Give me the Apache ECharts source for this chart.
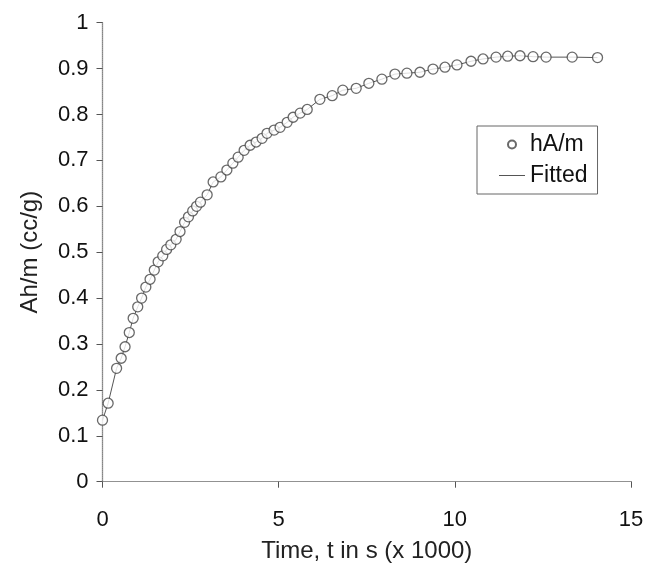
<!DOCTYPE html>
<html>
<head>
<meta charset="utf-8">
<script src="https://cdn.jsdelivr.net/npm/echarts@6/dist/echarts.min.js"></script>
<style>
  html, body { margin: 0; padding: 0; background: #fff; }
  #chart-container { width: 649px; height: 567px; }
</style>
</head>
<body>
<div id="chart-container"></div>
<script>
// Tiempos (x 1000 s) y valores
var tiempos = [0, 0.16, 0.40, 0.53, 0.64, 0.76, 0.87, 1.00, 1.11, 1.23, 1.35, 1.47, 1.58, 1.71,
  1.82, 1.94, 2.09, 2.20, 2.33, 2.44, 2.56, 2.67, 2.78, 2.97, 3.14, 3.36, 3.53, 3.70, 3.85,
  4.02, 4.19, 4.36, 4.53, 4.67, 4.87, 5.04, 5.24, 5.41, 5.61, 5.81, 6.17, 6.52, 6.82, 7.20,
  7.56, 7.93, 8.30, 8.64, 9.01, 9.38, 9.72, 10.06, 10.46, 10.80, 11.17, 11.50, 11.85, 12.22,
  12.59, 13.33, 14.05];
var valoresAhm = [0.134, 0.171, 0.247, 0.269, 0.294, 0.325, 0.356, 0.381, 0.400, 0.424, 0.441,
  0.461, 0.479, 0.492, 0.506, 0.516, 0.528, 0.545, 0.565, 0.577, 0.590, 0.600, 0.609, 0.625,
  0.653, 0.664, 0.679, 0.694, 0.707, 0.722, 0.733, 0.740, 0.748, 0.759, 0.766, 0.772, 0.783,
  0.794, 0.803, 0.811, 0.833, 0.841, 0.853, 0.857, 0.868, 0.877, 0.888, 0.890, 0.892, 0.899,
  0.903, 0.908, 0.916, 0.921, 0.925, 0.927, 0.928, 0.926, 0.925, 0.925, 0.924];
// Curva ajustada (pasa por los mismos puntos)
var valoresAjuste = valoresAhm.slice();

var fuente = "'Liberation Sans', Arial, sans-serif";

function pares(xs, ys) {
  return xs.map(function (x, i) { return [x, ys[i]]; });
}

var option = {
  animation: false,
  backgroundColor: "#fff",
  grid: { left: 102.5, right: 18, top: 22.7, bottom: 85.3, outerBoundsMode: "none" },
  legend: {
    data: [
      { name: "hA/m", icon: "circle" },
      { name: "Fitted", icon: "path://M0,0 L26,0 L26,1 L0,1 Z" }
    ],
    orient: "vertical",
    left: 477,
    top: 126,
    padding: [7, 10, 7, 22],
    itemGap: 8,
    itemWidth: 26,
    itemHeight: 8,
    backgroundColor: "#fff",
    borderColor: "#666",
    borderWidth: 1,
    borderRadius: 0,
    textStyle: { fontFamily: fuente, fontSize: 23, color: "#111" }
  },
  xAxis: [
    {
      type: "value",
      min: 0,
      max: 15,
      interval: 5,
      name: "Time, t in s (x 1000)",
      nameLocation: "middle",
      nameGap: 58,
      nameTextStyle: { fontFamily: fuente, fontSize: 24, color: "#222" },
      axisLine: { lineStyle: { color: "#555", width: 1.2 } },
      axisTick: { length: 6, lineStyle: { color: "#555" } },
      axisLabel: { fontFamily: fuente, fontSize: 22, color: "#111", margin: 27 },
      splitLine: { show: false }
    },
    {
      type: "value",
      position: "top",
      min: 0,
      max: 15,
      axisLine: { show: true, lineStyle: { color: "#999", type: "dotted" } },
      axisTick: { show: false },
      axisLabel: { show: false },
      splitLine: { show: false }
    }
  ],
  yAxis: [
    {
      type: "value",
      min: 0,
      max: 1,
      interval: 0.1,
      name: "Ah/m (cc/g)",
      nameLocation: "middle",
      nameGap: 60,
      nameRotate: 90,
      nameTextStyle: { fontFamily: fuente, fontSize: 24, color: "#222" },
      axisLine: { show: true, lineStyle: { color: "#555", width: 1.2 } },
      axisTick: { show: true, length: 6, lineStyle: { color: "#555" } },
      axisLabel: { fontFamily: fuente, fontSize: 22, color: "#111", margin: 14 },
      splitLine: { show: false }
    },
    {
      type: "value",
      position: "right",
      min: 0,
      max: 1,
      axisLine: { show: true, lineStyle: { color: "#999", type: "dotted" } },
      axisTick: { show: false },
      axisLabel: { show: false },
      splitLine: { show: false }
    }
  ],
  series: [
    {
      name: "hA/m",
      type: "scatter",
      data: pares(tiempos, valoresAhm),
      symbol: "circle",
      symbolSize: 10,
      z: 3,
      itemStyle: { color: "#fff", borderColor: "#444", borderWidth: 1.3 }
    },
    {
      name: "Fitted",
      type: "line",
      data: pares(tiempos, valoresAjuste),
      symbol: "none",
      z: 2,
      itemStyle: { color: "#555" },
      lineStyle: { color: "#555", width: 1 }
    }
  ]
};

var dom = document.getElementById("chart-container");
var myChart = echarts.init(dom, null, { renderer: "canvas" });
myChart.setOption(option);
</script>
</body>
</html>
